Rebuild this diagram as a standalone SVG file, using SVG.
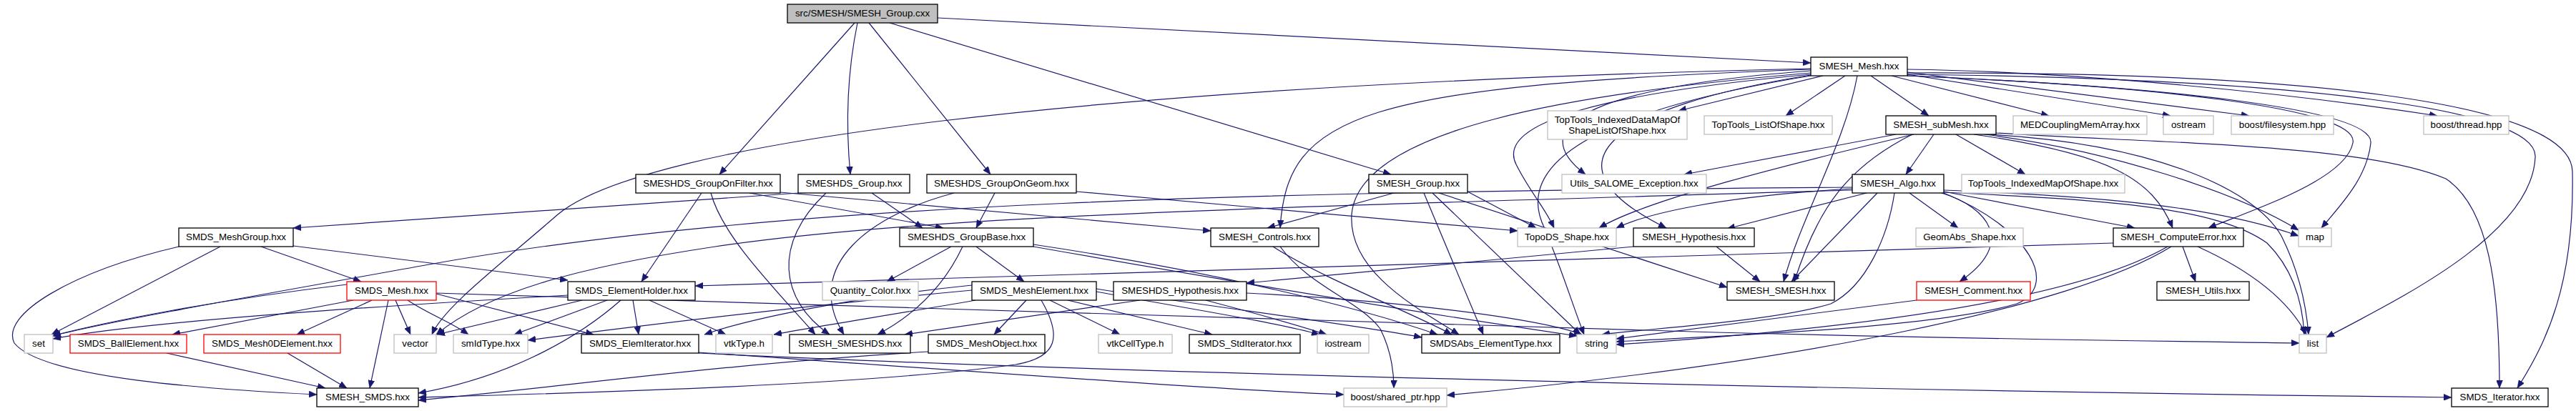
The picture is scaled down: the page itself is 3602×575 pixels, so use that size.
<svg xmlns="http://www.w3.org/2000/svg" width="3602" height="575" viewBox="0 0 3602 575">
<style>
.n rect{fill:#fff;stroke:#000;stroke-width:1.3}
.g rect{fill:#fff;stroke:#bfbfbf;stroke-width:1.3}
.r rect{fill:#fff;stroke:#ff0000;stroke-width:1.3}
.root rect{fill:#bfbfbf;stroke:#000;stroke-width:1.3}
text{font-family:"Liberation Sans",Arial,sans-serif;font-size:13.33px;text-anchor:middle;fill:#000}
#edges path{fill:none;stroke:#191970;stroke-width:1.2;marker-end:url(#a)}
</style>
<defs>
<marker id="a" markerUnits="userSpaceOnUse" markerWidth="12" markerHeight="9" refX="11" refY="4.5" orient="auto"><path d="M0,0 L11,4.5 L0,9 z" fill="#191970" stroke="#191970" stroke-width="0.5"/></marker>
</defs>
<rect width="3602" height="575" fill="#fff"/>
<g id="edges">
<path d="M1195,32 L1006,244"/>
<path d="M1199,32 C1185,100 1182,170 1189,244"/>
<path d="M1215,32 L1385,244"/>
<path d="M1244,32 L1945,244"/>
<path d="M1311,25 L2532,88"/>
<path d="M981,270 L897,394"/>
<path d="M994,270 C1010,330 1080,400 1140,468"/>
<path d="M1048,270 L1319,319"/>
<path d="M1091,269 L1693,323"/>
<path d="M1117,270 L410,319"/>
<path d="M1155,270 C1080,340 1090,420 1160,468"/>
<path d="M1219,270 L1290,319"/>
<path d="M1334,270 C1220,300 1120,370 1180,468"/>
<path d="M1391,270 L1365,319"/>
<path d="M1505,268 L2122,323"/>
<path d="M1949,270 L1772,319"/>
<path d="M1991,270 L2074,468"/>
<path d="M2003,270 L2210,468"/>
<path d="M2012,270 L2415,402"/>
<path d="M2052,268 L2148,319"/>
<path d="M2549,106 L2347,155"/>
<path d="M2580,106 L2497,162"/>
<path d="M2616,106 L2697,162"/>
<path d="M2645,106 L2865,162"/>
<path d="M2667,104 L3035,162"/>
<path d="M2667,101 L3145,162"/>
<path d="M2667,97 C2900,100 3200,130 3408,162"/>
<path d="M2532,99 C2250,120 2120,170 2217,244"/>
<path d="M2532,97 C1900,120 1800,160 1790,319"/>
<path d="M2532,96 C1500,120 900,200 780,300 C700,370 620,430 604,468"/>
<path d="M2532,102 C2200,130 1900,180 1890,300 C1885,380 1980,430 2040,468"/>
<path d="M2532,104 C2250,130 2090,170 2120,230 C2140,270 2160,290 2173,319"/>
<path d="M2532,105 C2250,150 2150,230 2330,319"/>
<path d="M2597,106 C2580,200 2520,300 2494,394"/>
<path d="M2532,106 C2200,160 2120,240 2160,320 C2185,380 2200,430 2215,468"/>
<path d="M2667,106 C3000,120 3300,150 3290,200 C3280,250 3160,290 3088,319"/>
<path d="M2667,106 C3000,120 3320,150 3315,200 C3310,250 3270,290 3246,319"/>
<path d="M2667,104 C3200,110 3550,150 3545,220 C3540,330 3350,420 3253,472"/>
<path d="M2667,102 C3200,100 3595,140 3597,240 C3600,400 3560,480 3520,543"/>
<path d="M2651,188 L2355,244"/>
<path d="M2676,188 C2500,230 2300,280 2236,319"/>
<path d="M2674,188 C2584,233 2542,290 2509,394"/>
<path d="M2704,188 L2665,244"/>
<path d="M2735,188 L2832,244"/>
<path d="M2760,188 C2950,215 3010,250 3038,319"/>
<path d="M2775,188 C2950,210 3130,270 3214,322"/>
<path d="M2780,188 C3000,200 3150,260 3190,330 C3215,380 3225,430 3228,468"/>
<path d="M2791,186 C3000,200 3300,200 3420,250 C3480,290 3495,400 3495,543"/>
<path d="M2625,270 L2505,394"/>
<path d="M2670,270 L2738,319"/>
<path d="M2715,270 C2780,290 2820,340 2740,394"/>
<path d="M2718,268 L2985,319"/>
<path d="M2610,270 L2415,320"/>
<path d="M2718,270 C2840,320 2880,400 2820,425 C2700,460 2400,470 2260,478"/>
<path d="M2718,266 C2950,275 3100,290 3214,330"/>
<path d="M2718,269 C2950,280 3100,290 3170,340 C3210,380 3220,430 3222,468"/>
<path d="M2590,262 C1800,268 1100,280 600,370 C350,415 150,450 74,470"/>
<path d="M2590,266 C1800,290 1300,300 1000,345 C800,375 680,410 610,468"/>
<path d="M2590,264 C2400,275 2300,300 2260,319"/>
<path d="M2649,270 C2640,330 2610,400 2560,425 C2480,450 2300,460 2240,468"/>
<path d="M250,345 C100,380 0,440 20,480 C60,530 300,545 443,552"/>
<path d="M308,345 L72,468"/>
<path d="M365,345 L505,394"/>
<path d="M410,344 L794,392"/>
<path d="M485,398 C300,420 150,450 72,470"/>
<path d="M494,420 L241,468"/>
<path d="M520,420 L415,468"/>
<path d="M543,420 L517,543"/>
<path d="M553,420 L574,468"/>
<path d="M570,420 C600,440 630,450 655,468"/>
<path d="M610,411 L830,468"/>
<path d="M610,410 C1200,430 2000,450 2400,465 C2800,475 3000,477 3215,480"/>
<path d="M233,494 L455,543"/>
<path d="M402,494 L485,543"/>
<path d="M814,420 L611,468"/>
<path d="M849,420 L719,468"/>
<path d="M885,420 L893,468"/>
<path d="M908,420 L1015,468"/>
<path d="M868,420 C800,480 700,530 585,550"/>
<path d="M794,413 C500,430 200,450 74,474"/>
<path d="M977,493 C1300,515 1700,545 1879,552"/>
<path d="M977,494 C1500,520 2500,545 3428,556"/>
<path d="M1330,345 L1240,394"/>
<path d="M1346,345 C1320,400 1280,440 1227,468"/>
<path d="M1365,345 L1432,394"/>
<path d="M1445,342 C1700,380 1900,430 2010,468"/>
<path d="M1445,345 C1700,390 2000,440 2205,470"/>
<path d="M1780,345 C1850,390 1980,440 2030,468"/>
<path d="M1790,345 C1830,400 1900,420 1930,460 C1945,490 1949,520 1949,543"/>
<path d="M1435,420 L1390,468"/>
<path d="M1468,420 L1566,468"/>
<path d="M1493,420 L1695,468"/>
<path d="M1456,420 C1485,470 1480,500 1420,510 C1200,540 800,550 585,556"/>
<path d="M1359,399 C1200,415 1050,445 985,468"/>
<path d="M1364,420 C1250,440 1150,455 1082,468"/>
<path d="M1359,406 C1100,430 900,455 738,476"/>
<path d="M1533,404 C1700,430 1900,455 1988,472"/>
<path d="M1533,408 C1650,430 1780,450 1845,468"/>
<path d="M1298,492 C1000,510 800,540 585,560"/>
<path d="M1594,420 L1265,468"/>
<path d="M1743,410 C1950,420 2150,445 2212,468"/>
<path d="M1686,420 C1760,440 1800,450 1855,468"/>
<path d="M2284,345 L1743,396"/>
<path d="M2400,345 L2461,394"/>
<path d="M3052,345 L3070,394"/>
<path d="M3073,345 C3150,380 3200,420 3225,468"/>
<path d="M3031,345 C2900,420 2600,460 2260,482"/>
<path d="M3036,345 C2900,430 2500,510 2023,553"/>
<path d="M2955,340 L972,400"/>
<path d="M2680,420 L2260,474"/>
</g>
<g id="cxx" class="root"><rect x="1101" y="6" width="210" height="26"/><text x="1206" y="23">src/SMESH/SMESH_Group.cxx</text></g>
<g id="GOF" class="n"><rect x="889" y="244" width="202" height="26"/><text x="990" y="261">SMESHDS_GroupOnFilter.hxx</text></g>
<g id="SDG" class="n"><rect x="1116" y="244" width="156" height="26"/><text x="1194" y="261">SMESHDS_Group.hxx</text></g>
<g id="GOG" class="n"><rect x="1296" y="244" width="209" height="26"/><text x="1400.5" y="261">SMESHDS_GroupOnGeom.hxx</text></g>
<g id="SG" class="n"><rect x="1914" y="244" width="138" height="26"/><text x="1983" y="261">SMESH_Group.hxx</text></g>
<g id="TTIDM" class="g"><rect x="2164" y="155" width="195" height="40"/><text x="2261.5" y="172">TopTools_IndexedDataMapOf</text><text x="2261.5" y="187">ShapeListOfShape.hxx</text></g>
<g id="TTLS" class="g"><rect x="2383" y="162" width="179" height="26"/><text x="2472.5" y="179">TopTools_ListOfShape.hxx</text></g>
<g id="USE" class="g"><rect x="2184" y="244" width="202" height="26"/><text x="2285" y="261">Utils_SALOME_Exception.hxx</text></g>
<g id="SM" class="n"><rect x="2532" y="80" width="135" height="26"/><text x="2599.5" y="97">SMESH_Mesh.hxx</text></g>
<g id="SSM" class="n"><rect x="2637" y="162" width="154" height="26"/><text x="2714" y="179">SMESH_subMesh.hxx</text></g>
<g id="MED" class="g"><rect x="2815" y="162" width="187" height="26"/><text x="2908.5" y="179">MEDCouplingMemArray.hxx</text></g>
<g id="ALGO" class="n"><rect x="2590" y="244" width="128" height="26"/><text x="2654" y="261">SMESH_Algo.hxx</text></g>
<g id="TTIM" class="g"><rect x="2743" y="244" width="228" height="26"/><text x="2857" y="261">TopTools_IndexedMapOfShape.hxx</text></g>
<g id="OST" class="g"><rect x="3025" y="162" width="70" height="26"/><text x="3060" y="179">ostream</text></g>
<g id="BFS" class="g"><rect x="3120" y="162" width="143" height="26"/><text x="3191.5" y="179">boost/filesystem.hpp</text></g>
<g id="BTH" class="g"><rect x="3389" y="162" width="119" height="26"/><text x="3448.5" y="179">boost/thread.hpp</text></g>
<g id="MG" class="n"><rect x="250" y="319" width="160" height="26"/><text x="330" y="336">SMDS_MeshGroup.hxx</text></g>
<g id="SMDSM" class="r"><rect x="485" y="394" width="125" height="26"/><text x="547.5" y="411">SMDS_Mesh.hxx</text></g>
<g id="SET" class="g"><rect x="34" y="468" width="40" height="26"/><text x="54" y="485">set</text></g>
<g id="BALL" class="r"><rect x="98" y="468" width="163" height="26"/><text x="179.5" y="485">SMDS_BallElement.hxx</text></g>
<g id="M0D" class="r"><rect x="285" y="468" width="191" height="26"/><text x="380.5" y="485">SMDS_Mesh0DElement.hxx</text></g>
<g id="VEC" class="g"><rect x="551" y="468" width="59" height="26"/><text x="580.5" y="485">vector</text></g>
<g id="SSMDS" class="n"><rect x="443" y="543" width="142" height="26"/><text x="514" y="560">SMESH_SMDS.hxx</text></g>
<g id="EH" class="n"><rect x="794" y="394" width="178" height="26"/><text x="883" y="411">SMDS_ElementHolder.hxx</text></g>
<g id="SMID" class="g"><rect x="634" y="468" width="104" height="26"/><text x="686" y="485">smIdType.hxx</text></g>
<g id="EI" class="n"><rect x="813" y="468" width="164" height="26"/><text x="895" y="485">SMDS_ElemIterator.hxx</text></g>
<g id="VTKT" class="g"><rect x="1001" y="468" width="79" height="26"/><text x="1040.5" y="485">vtkType.h</text></g>
<g id="SSMESHDS" class="n"><rect x="1104" y="468" width="169" height="26"/><text x="1188.5" y="485">SMESH_SMESHDS.hxx</text></g>
<g id="QC" class="g"><rect x="1150" y="394" width="134" height="26"/><text x="1217" y="411">Quantity_Color.hxx</text></g>
<g id="GB" class="n"><rect x="1258" y="319" width="187" height="26"/><text x="1351.5" y="336">SMESHDS_GroupBase.hxx</text></g>
<g id="CTRL" class="n"><rect x="1693" y="319" width="151" height="26"/><text x="1768.5" y="336">SMESH_Controls.hxx</text></g>
<g id="ME" class="n"><rect x="1359" y="394" width="174" height="26"/><text x="1446" y="411">SMDS_MeshElement.hxx</text></g>
<g id="HYPDS" class="n"><rect x="1557" y="394" width="186" height="26"/><text x="1650" y="411">SMESHDS_Hypothesis.hxx</text></g>
<g id="MO" class="n"><rect x="1298" y="468" width="163" height="26"/><text x="1379.5" y="485">SMDS_MeshObject.hxx</text></g>
<g id="VCT" class="g"><rect x="1536" y="468" width="103" height="26"/><text x="1587.5" y="485">vtkCellType.h</text></g>
<g id="STDIT" class="n"><rect x="1663" y="468" width="155" height="26"/><text x="1740.5" y="485">SMDS_StdIterator.hxx</text></g>
<g id="TDS" class="g"><rect x="2122" y="319" width="138" height="26"/><text x="2191" y="336">TopoDS_Shape.hxx</text></g>
<g id="HYP" class="n"><rect x="2284" y="319" width="169" height="26"/><text x="2368.5" y="336">SMESH_Hypothesis.hxx</text></g>
<g id="IOS" class="g"><rect x="1842" y="468" width="72" height="26"/><text x="1878" y="485">iostream</text></g>
<g id="SAET" class="n"><rect x="1988" y="468" width="193" height="26"/><text x="2084.5" y="485">SMDSAbs_ElementType.hxx</text></g>
<g id="STR" class="g"><rect x="2205" y="468" width="55" height="26"/><text x="2232.5" y="485">string</text></g>
<g id="BSP" class="g"><rect x="1879" y="543" width="144" height="26"/><text x="1951" y="560">boost/shared_ptr.hpp</text></g>
<g id="SSMESH" class="n"><rect x="2415" y="394" width="150" height="26"/><text x="2490" y="411">SMESH_SMESH.hxx</text></g>
<g id="GEOM" class="g"><rect x="2679" y="319" width="150" height="26"/><text x="2754" y="336">GeomAbs_Shape.hxx</text></g>
<g id="CMT" class="r"><rect x="2680" y="394" width="159" height="26"/><text x="2759.5" y="411">SMESH_Comment.hxx</text></g>
<g id="CE" class="n"><rect x="2955" y="319" width="182" height="26"/><text x="3046" y="336">SMESH_ComputeError.hxx</text></g>
<g id="MAP" class="g"><rect x="3214" y="319" width="46" height="26"/><text x="3237" y="336">map</text></g>
<g id="UTILS" class="n"><rect x="3016" y="394" width="129" height="26"/><text x="3080.5" y="411">SMESH_Utils.hxx</text></g>
<g id="LIST" class="g"><rect x="3215" y="468" width="38" height="26"/><text x="3234" y="485">list</text></g>
<g id="SIT" class="n"><rect x="3428" y="543" width="135" height="26"/><text x="3495.5" y="560">SMDS_Iterator.hxx</text></g>
</svg>
